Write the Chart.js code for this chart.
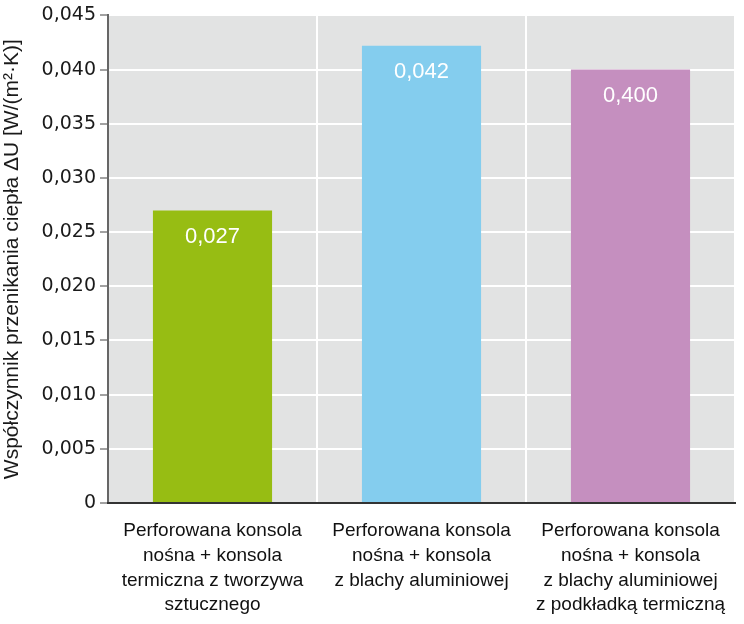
<!DOCTYPE html>
<html>
<head>
<meta charset="utf-8">
<script src="https://cdn.jsdelivr.net/npm/chart.js@4"></script>
<style>
  html, body { margin: 0; padding: 0; background: #fff; }
  #wrap { width: 744px; height: 624px; }
</style>
</head>
<body>
<div id="wrap"><canvas id="chart" width="744" height="624"></canvas></div>
<script>
// data
const categories = [
  ["Perforowana konsola", "nośna + konsola", "termiczna z tworzywa", "sztucznego"],
  ["Perforowana konsola", "nośna + konsola", "z blachy aluminiowej"],
  ["Perforowana konsola", "nośna + konsola", "z blachy aluminiowej", "z podkładką termiczną"]
];
const values = [0.027, 0.0422, 0.040];
// printed labels (the third one is printed as 0,400 in the original)
const valueLabels = ["0,027", "0,042", "0,400"];
const barColors = ["#97bd13", "#84cdee", "#c58fbf"];
const yTitle = "Współczynnik przenikania ciepła ΔU [W/(m²·K)]";

const plotBg = {
  id: "plotBg",
  beforeDraw(chart) {
    const { ctx, chartArea: a } = chart;
    ctx.save();
    ctx.fillStyle = "#e2e3e3";
    ctx.fillRect(a.left, a.top, a.right - a.left, a.bottom - a.top);
    ctx.restore();
  }
};

const barLabels = {
  id: "barLabels",
  afterDatasetsDraw(chart) {
    const { ctx } = chart;
    const meta = chart.getDatasetMeta(0);
    ctx.save();
    ctx.fillStyle = "#ffffff";
    ctx.font = "22px 'Liberation Sans'";
    ctx.textAlign = "center";
    ctx.textBaseline = "middle";
    meta.data.forEach((bar, i) => {
      ctx.fillText(valueLabels[i], bar.x, bar.y + 26);
    });
    ctx.restore();
  }
};

new Chart(document.getElementById("chart"), {
  type: "bar",
  data: {
    labels: categories,
    datasets: [{
      data: values,
      backgroundColor: barColors,
      barPercentage: 0.57,
      categoryPercentage: 1
    }]
  },
  options: {
    responsive: false,
    animation: false,
    layout: { padding: { top: 12, right: 9, left: 0, bottom: 0 } },
    plugins: { legend: { display: false }, tooltip: { enabled: false } },
    scales: {
      y: {
        min: 0,
        max: 0.045,
        afterFit(s) { s.width = 108; },
        ticks: {
          stepSize: 0.005,
          color: "#1a1a1a",
          padding: 4,
          font: { family: "'DejaVu Sans'", size: 19 },
          callback: v => v === 0 ? "0" : v.toFixed(3).replace(".", ",")
        },
        grid: {
          color: "#ffffff",
          lineWidth: 2,
          tickColor: "#444444",
          tickLength: 8,
          tickWidth: 1
        },
        border: { color: "#666666", width: 2 },
        title: {
          display: true,
          text: yTitle,
          color: "#1a1a1a",
          font: { family: "'Liberation Sans'", size: 21 },
          padding: { top: 0, bottom: 0 }
        }
      },
      x: {
        afterFit(s) { s.height = 121; },
        ticks: {
          color: "#111111",
          padding: 16,
          maxRotation: 0,
          font: { family: "'Liberation Sans'", size: 19, lineHeight: 1.29 }
        },
        grid: {
          offset: true,
          color: "#ffffff",
          lineWidth: 2,
          drawTicks: false
        },
        border: { color: "#333333", width: 2 }
      }
    }
  },
  plugins: [plotBg, barLabels]
});
</script>
</body>
</html>
